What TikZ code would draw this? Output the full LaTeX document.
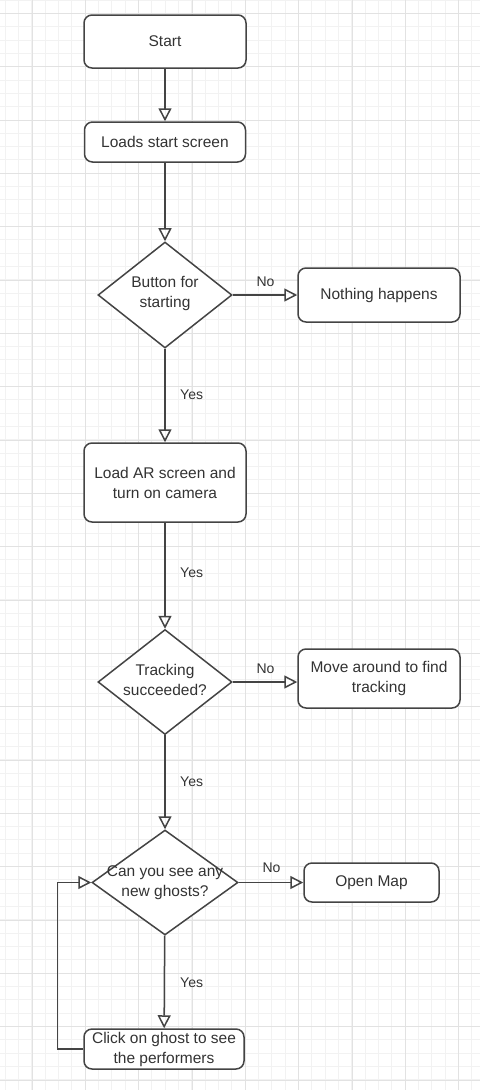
\documentclass[tikz,border=0pt]{standalone}
\usepackage{fontspec}
\setmainfont{Liberation Sans}
\usetikzlibrary{shapes.geometric,arrows.meta}
\definecolor{ln}{HTML}{444444}
\definecolor{tx}{HTML}{333333}
\definecolor{gmin}{HTML}{F2F2F2}
\definecolor{gmaj}{HTML}{E2E2E2}
\begin{document}
\begin{tikzpicture}[x=1pt,y=-1pt,
  box/.style={draw=ln, line width=1.5pt, rounded corners=8pt, fill=white, text=tx, align=center,
              font=\fontsize{15.5}{20}\selectfont, inner sep=0pt},
  dia/.style={draw=ln, line width=1.5pt, diamond, fill=white, inner sep=0pt},
  dtext/.style={text=tx, align=center, font=\fontsize{15.5}{20}\selectfont, inner sep=0pt},
  lab/.style={text=tx, font=\fontsize{14}{17}\selectfont, inner sep=0pt},
  arr/.style={draw=ln, line width=1.5pt, -{Triangle[open, length=13pt, width=13pt]}},
  conn/.style={draw=ln, line width=1.5pt}]
\useasboundingbox (0,0) rectangle (480,1090);
\fill[white] (0,0) rectangle (480,1090);
% grid
\foreach \i in {0,...,36} \draw[gmin, line width=1pt] ({5.333+13.333*\i},0) -- ++(0,1090);
\foreach \i in {0,...,82} \draw[gmin, line width=1pt] (0,{13.333*\i}) -- ++(480,0);
\foreach \i in {0,...,8} \draw[gmaj, line width=1pt] ({32+53.333*\i},0) -- ++(0,1090);
\foreach \i in {0,...,20} \draw[gmaj, line width=1pt] (0,{13.333+53.333*\i}) -- ++(480,0);

% nodes
\node[box, minimum width=162pt, minimum height=53pt] (start) at (165,41.5) {Start};
\node[box, minimum width=161pt, minimum height=40pt] (load) at (165,142) {Loads start screen};
\node[dia, minimum width=134pt, minimum height=106pt] (d1) at (165,295) {};
\node[dtext] (d1t) at (165,293) {Button for\\starting};
\node[box, minimum width=162pt, minimum height=54pt] (noth) at (379,295) {Nothing happens};
\node[box, minimum width=162pt, minimum height=79pt] (ar) at (165,482.5) {Load AR screen and\\turn on camera};
\node[dia, minimum width=134pt, minimum height=105pt] (d2) at (165,682) {};
\node[dtext] (d2t) at (165,680) {Tracking\\succeeded?};
\node[box, minimum width=162pt, minimum height=59pt] (move) at (379,678.5) {Move around to find\\tracking};
\node[dia, minimum width=146pt, minimum height=105pt] (d3) at (165,882.5) {};
\node[dtext] (d3t) at (165,883) {Can you see any\\new ghosts?};
\node[box, minimum width=135pt, minimum height=39pt] (map) at (371.5,882.5) {Open Map};
\node[box, minimum width=160pt, minimum height=40pt] (click) at (164,1049) {Click on ghost to see\\the performers};
\coordinate (lp) at (57.5,1049);

% connectors
\draw[arr] (start) -- (load);
\draw[arr] (load) -- (d1);
\draw[arr] (d1.east) -- (d1.east -| noth.west);
\draw[arr] (d1) -- (ar);
\draw[arr] (ar) -- (d2);
\draw[arr] (d2.east) -- (d2.east -| move.west);
\draw[arr] (d2) -- (d3);
\draw[arr] (d3.east) -- (d3.east -| map.west);
\draw[arr] (d3) -- (click);
\draw[arr] (click.west) -- (lp) |- (d3.west);

% labels
\node[lab] (no1) at (265.5,282) {No};
\node[lab] (no2) at (265.5,669) {No};
\node[lab] (no3) at (271.5,868) {No};
\node[lab, anchor=west] (yes1) at (180,395) {Yes};
\node[lab, anchor=west] (yes2) at (180,573) {Yes};
\node[lab, anchor=west] (yes3) at (180,782) {Yes};
\node[lab, anchor=west] (yes4) at (180,983) {Yes};
\end{tikzpicture}
\end{document}
